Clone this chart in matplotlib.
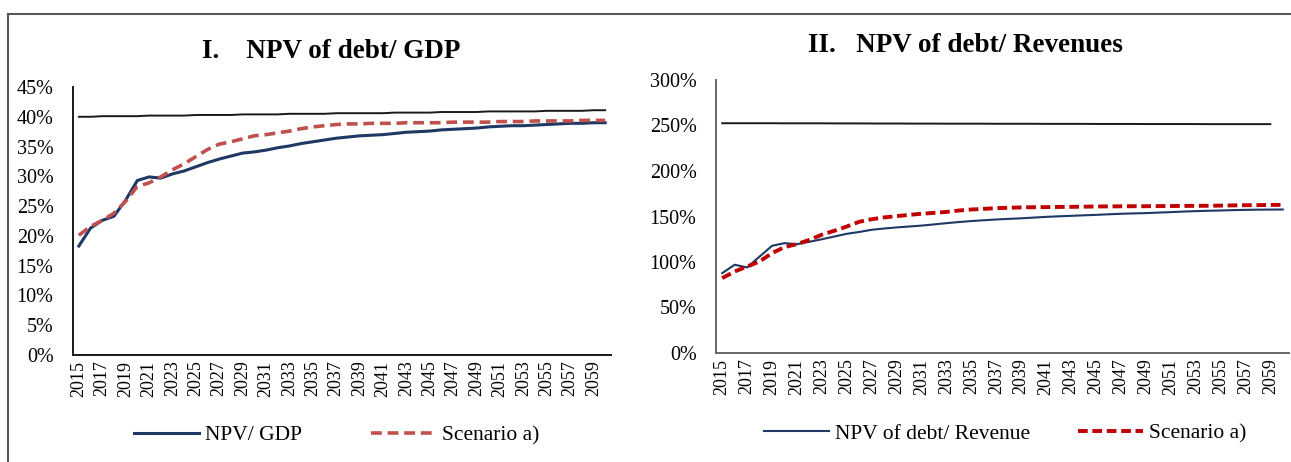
import numpy as np
import matplotlib.pyplot as plt
from matplotlib.lines import Line2D
from matplotlib.ticker import FuncFormatter

plt.rcParams['font.family'] = ['Liberation Serif', 'DejaVu Serif']

years = list(range(2015, 2061))

# I. NPV of debt / GDP (%)
gdp_npv = [18.3, 21.3, 22.6, 23.3, 26.0, 29.3, 29.9, 29.7, 30.4, 30.9,
           31.6, 32.3, 32.9, 33.4, 33.9, 34.1, 34.4, 34.8, 35.1, 35.5,
           35.8, 36.1, 36.4, 36.6, 36.8, 36.9, 37.0, 37.2, 37.4, 37.5,
           37.6, 37.8, 37.9, 38.0, 38.1, 38.3, 38.4, 38.5, 38.5, 38.6,
           38.7, 38.8, 38.9, 38.9, 39.0, 39.0]
gdp_scen = [20.1, 21.6, 22.6, 23.8, 25.8, 28.3, 28.9, 29.9, 31.1, 32.1,
            33.3, 34.5, 35.4, 35.8, 36.3, 36.8, 37.0, 37.3, 37.6, 38.0,
            38.3, 38.5, 38.7, 38.8, 38.8, 38.9, 38.9, 38.9, 39.0, 39.0,
            39.0, 39.0, 39.1, 39.1, 39.1, 39.1, 39.2, 39.2, 39.2, 39.3,
            39.3, 39.3, 39.3, 39.4, 39.4, 39.4]
gdp_thr = [40.0, 40.0, 40.1, 40.1, 40.1, 40.1, 40.2, 40.2, 40.2, 40.2,
           40.3, 40.3, 40.3, 40.3, 40.4, 40.4, 40.4, 40.4, 40.5, 40.5,
           40.5, 40.5, 40.6, 40.6, 40.6, 40.6, 40.6, 40.7, 40.7, 40.7,
           40.7, 40.8, 40.8, 40.8, 40.8, 40.9, 40.9, 40.9, 40.9, 40.9,
           41.0, 41.0, 41.0, 41.0, 41.1, 41.1]

# II. NPV of debt / Revenues (%)
rev_npv = [87.8, 97.0, 94.0, 106.0, 117.8, 120.7, 119.6, 122.2, 125.0, 128.0,
           131.0, 133.0, 135.4, 136.8, 138.0, 139.0, 140.0, 141.3, 142.7, 143.9,
           145.0, 145.9, 146.7, 147.4, 148.0, 148.8, 149.6, 150.2, 150.7, 151.3,
           151.8, 152.4, 153.0, 153.4, 153.7, 154.3, 154.8, 155.4, 155.9, 156.3,
           156.6, 157.0, 157.3, 157.5, 157.6, 157.7]
rev_scen = [82.3, 89.6, 95.0, 100.6, 109.8, 116.4, 119.6, 124.4, 130.0, 134.3,
            139.0, 144.2, 147.0, 149.0, 150.4, 151.8, 153.0, 154.0, 155.0, 156.6,
            157.7, 158.4, 159.2, 159.6, 160.0, 160.2, 160.3, 160.5, 160.6, 160.8,
            161.0, 161.1, 161.2, 161.3, 161.3, 161.4, 161.5, 161.6, 161.7, 161.8,
            162.0, 162.2, 162.4, 162.5, 162.7, 162.8]
rev_thr = [252.5, 252.5, 252.5, 252.5, 252.5, 252.4, 252.4, 252.4, 252.4, 252.3,
           252.3, 252.3, 252.2, 252.2, 252.2, 252.1, 252.1, 252.1, 252.0, 252.0,
           252.0, 252.0, 251.9, 251.9, 251.9, 251.9, 251.8, 251.8, 251.8, 251.8,
           251.7, 251.7, 251.7, 251.7, 251.6, 251.6, 251.6, 251.6, 251.6, 251.5,
           251.5, 251.5, 251.5, 251.5, 251.5]

W, H = 1291, 462
fig = plt.figure(figsize=(W / 100, H / 100), dpi=100)

def px(x0, y_top, x1, y_bot):
    return [x0 / W, 1 - y_bot / H, (x1 - x0) / W, (y_bot - y_top) / H]

pct = FuncFormatter(lambda v, p: '%d%%' % v)
xi = np.arange(len(years))
fs = 13

def style(ax, ymax, ystep, spine_col):
    ax.set_xlim(-0.5, len(years) - 0.5)
    ax.set_ylim(0, ymax)
    ax.set_yticks(np.arange(0, ymax + 1, ystep))
    ax.yaxis.set_major_formatter(pct)
    ax.set_xticks(xi[::2])
    ax.set_xticklabels([str(y) for y in years[::2]], rotation=90)
    ax.tick_params(axis='x', length=0, labelsize=fs, pad=4)
    ax.tick_params(axis='y', length=0, labelsize=14.5, pad=14)
    for s in ['top', 'right']:
        ax.spines[s].set_visible(False)
    for s in ['left', 'bottom']:
        ax.spines[s].set_color(spine_col)
        ax.spines[s].set_linewidth(1.4)

# left panel
ax1 = fig.add_axes(px(73, 87, 611, 355))
ax1.plot(xi, gdp_thr, color='#1a1a1a', lw=1.4)
ax1.plot(xi, gdp_npv, color='#1F3864', lw=2.2, label='NPV/ GDP')
ax1.plot(xi, gdp_scen, color='#C0504D', lw=2.6, ls=(0, (3, 1.6)), label='Scenario a)')
style(ax1, 45, 5, '#1a1a1a')
ax1.text(0.48, 1 + 35 / 268, 'I.    NPV of debt/ GDP', transform=ax1.transAxes,
         ha='center', va='center', fontsize=19.5, fontweight='bold')
ax1.legend(loc='center', bbox_to_anchor=(0.49, -0.3), ncol=2, frameon=False,
           fontsize=15.5, handlelength=3.0, columnspacing=3.2, handletextpad=0.3)

# right panel
ax2 = fig.add_axes(px(716, 80, 1289, 353))
ax2.plot(xi[:len(rev_thr)], rev_thr, color='#1a1a1a', lw=1.4)
ax2.plot(xi, rev_npv, color='#1F3864', lw=1.5, label='NPV of debt/ Revenue')
ax2.plot(xi, rev_scen, color='#C00000', lw=2.8, ls=(0, (2.5, 1.2)), label='Scenario a)')
style(ax2, 300, 50, '#666666')
ax2.text(0.436, 1 + 35 / 273, 'II.   NPV of debt/ Revenues', transform=ax2.transAxes,
         ha='center', va='center', fontsize=19.5, fontweight='bold')
ax2.legend(loc='center', bbox_to_anchor=(0.505, -0.295), ncol=2, frameon=False,
           fontsize=15.5, handlelength=3.0, columnspacing=2.2, handletextpad=0.3)

# outer frame (only top and left edges visible)
fig.add_artist(Line2D([8 / W, 1], [1 - 14 / H, 1 - 14 / H], color='#595959', lw=1.5))
fig.add_artist(Line2D([8 / W, 8 / W], [0, 1 - 14 / H], color='#595959', lw=1.5))

fig.savefig('out.png', dpi=100, facecolor='white')
